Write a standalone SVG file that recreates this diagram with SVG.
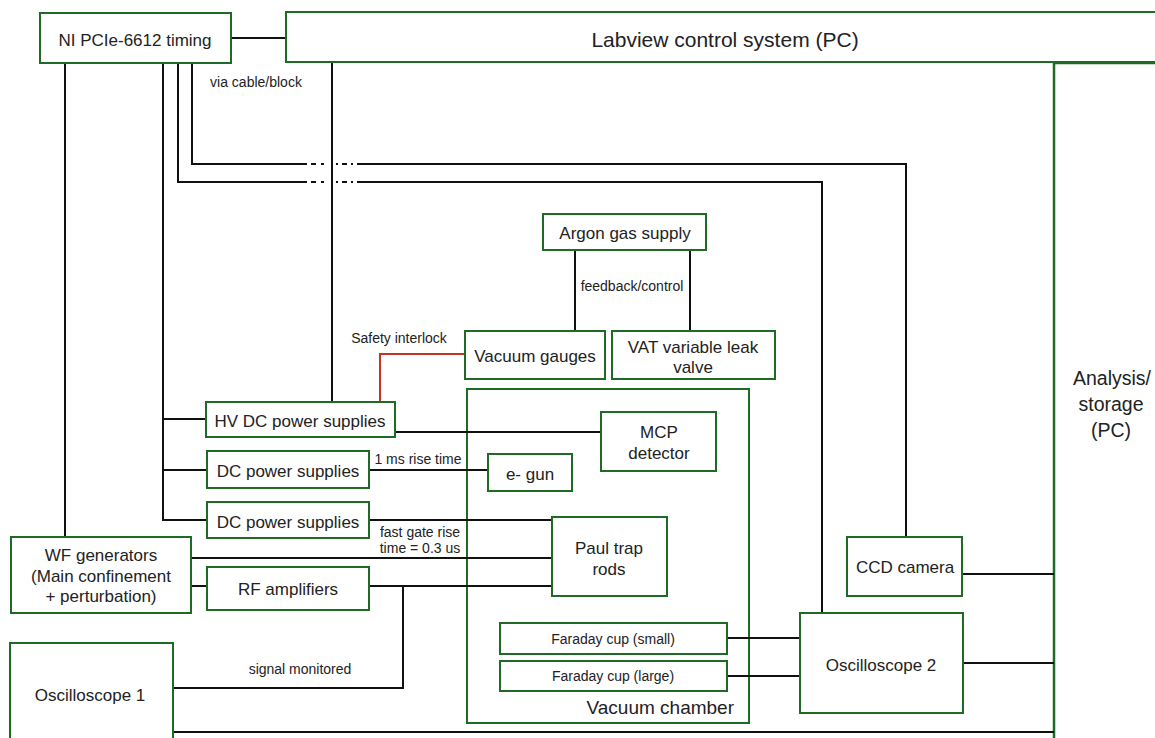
<svg xmlns="http://www.w3.org/2000/svg" width="1155" height="738" viewBox="0 0 1155 738">
<style>
.n{fill:#fff;stroke:#1f6a25;stroke-width:2}
.t{font-family:"Liberation Sans",Arial,sans-serif;font-size:17px;fill:#222;text-anchor:middle}
.s{font-family:"Liberation Sans",Arial,sans-serif;font-size:14px;fill:#222;text-anchor:middle}
.c{fill:none;stroke:#111;stroke-width:2}
.r{fill:none;stroke:#c8321e;stroke-width:2}
</style>
<rect width="1155" height="738" fill="#fff"/>
<g id="analysis"><rect class="n" x="1054" y="63" width="200" height="720" style="stroke-width:2.5"/>
<text class="t" style="font-size:19.5px" x="1112" y="385">Analysis/</text>
<text class="t" style="font-size:19.5px" x="1111" y="411">storage</text>
<text class="t" style="font-size:19.5px" x="1111" y="437">(PC)</text></g>
<g id="vacuum-chamber"><rect class="n" x="467" y="389" width="282" height="334"/>
<text class="t" style="font-size:19px;text-anchor:end" x="734" y="714">Vacuum chamber</text></g>
<g id="connectors">
<path class="c" d="M231,38H286"/>
<path class="c" d="M65,63V537"/>
<path class="c" d="M163,63V520H207M163,419H206M163,470H207"/>
<path class="c" d="M178,63V182H307M357,182H822V613"/>
<path class="c" d="M192,63V164H307M357,164H906V537"/>
<path class="c" d="M311,164H316M321,164H324M336,164H338M342,164H347M351,164H353"/>
<path class="c" d="M311,182H316M321,182H324M336,182H338M342,182H347M351,182H353"/>
<path class="c" d="M332,62V402"/>
<path class="c" d="M575,250V331M690,250V331"/>
<path class="r" d="M465,354H380V402"/>
<path class="c" d="M395,432H601"/>
<path class="c" d="M369,470H488"/>
<path class="c" d="M369,520H552"/>
<path class="c" d="M191,558H552"/>
<path class="c" d="M191,586H207"/>
<path class="c" d="M369,586H552"/>
<path class="c" d="M403,586V688H173"/>
<path class="c" d="M173,732H1054"/>
<path class="c" d="M724,638H800M724,676H800"/>
<path class="c" d="M962,574H1054"/>
<path class="c" d="M963,663H1054"/>
<text class="s" x="256" y="87">via cable/block</text>
<text class="s" x="632" y="291">feedback/control</text>
<text class="s" x="399" y="343">Safety interlock</text>
<text class="s" x="418" y="464">1 ms rise time</text>
<text class="s" x="420" y="537">fast gate rise</text>
<text class="s" x="420" y="553">time = 0.3 us</text>
<text class="s" x="300" y="674">signal monitored</text>
</g>
<g id="ni-timing"><rect class="n" x="40" y="13" width="191" height="50"/><text class="t" x="135" y="46">NI PCIe-6612 timing</text></g>
<g id="labview"><rect class="n" x="286" y="12" width="900" height="50"/><text class="t" style="font-size:21px" x="725" y="47">Labview control system (PC)</text></g>
<g id="argon"><rect class="n" x="543" y="214" width="163" height="36"/><text class="t" x="625" y="239">Argon gas supply</text></g>
<g id="vacuum-gauges"><rect class="n" x="465" y="331" width="140" height="48"/><text class="t" x="535" y="362">Vacuum gauges</text></g>
<g id="vat"><rect class="n" x="612" y="331" width="163" height="48"/><text class="t" x="693" y="353">VAT variable leak</text><text class="t" x="693" y="373">valve</text></g>
<g id="hv-dc"><rect class="n" x="206" y="402" width="189" height="35"/><text class="t" x="300" y="427">HV DC power supplies</text></g>
<g id="dc1"><rect class="n" x="207" y="451" width="162" height="37"/><text class="t" x="288" y="477">DC power supplies</text></g>
<g id="dc2"><rect class="n" x="207" y="502" width="162" height="36"/><text class="t" x="288" y="528">DC power supplies</text></g>
<g id="wf"><rect class="n" x="11" y="537" width="180" height="76"/><text class="t" x="101" y="561">WF generators</text><text class="t" x="101" y="582">(Main confinement</text><text class="t" x="101" y="602">+ perturbation)</text></g>
<g id="rf"><rect class="n" x="207" y="567" width="162" height="43"/><text class="t" x="288" y="595">RF amplifiers</text></g>
<g id="mcp"><rect class="n" x="601" y="412" width="115" height="59"/><text class="t" x="659" y="438">MCP</text><text class="t" x="659" y="459">detector</text></g>
<g id="egun"><rect class="n" x="488" y="454" width="84" height="37"/><text class="t" x="530" y="480">e- gun</text></g>
<g id="paul"><rect class="n" x="552" y="517" width="115" height="79"/><text class="t" x="609" y="554">Paul trap</text><text class="t" x="609" y="575">rods</text></g>
<g id="faraday-small"><rect class="n" x="500" y="623" width="227" height="31"/><text class="s" x="613" y="644">Faraday cup (small)</text></g>
<g id="faraday-large"><rect class="n" x="500" y="661" width="227" height="30"/><text class="s" x="613" y="681">Faraday cup (large)</text></g>
<g id="ccd"><rect class="n" x="847" y="537" width="115" height="59"/><text class="t" x="905" y="573">CCD camera</text></g>
<g id="osc2"><rect class="n" x="800" y="613" width="163" height="100"/><text class="t" x="881" y="671">Oscilloscope 2</text></g>
<g id="osc1"><rect class="n" x="10" y="643" width="163" height="120"/><text class="t" x="90" y="701">Oscilloscope 1</text></g>
</svg>
